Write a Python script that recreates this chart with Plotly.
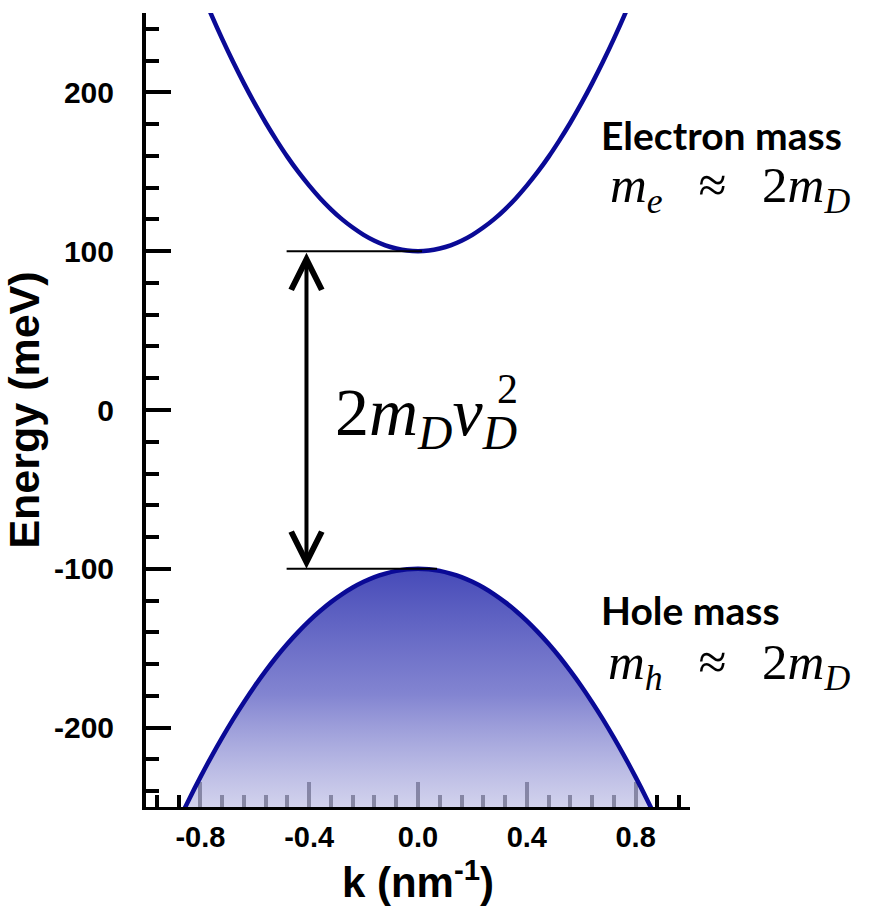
import plotly.graph_objects as go

# ---- data ----
k_electron = [-0.80, -0.76, -0.72, -0.68, -0.64, -0.60, -0.56, -0.52, -0.48, -0.44, -0.40,
              -0.36, -0.32, -0.28, -0.24, -0.20, -0.16, -0.12, -0.08, -0.04, 0.00,
              0.04, 0.08, 0.12, 0.16, 0.20, 0.24, 0.28, 0.32, 0.36, 0.40,
              0.44, 0.48, 0.52, 0.56, 0.60, 0.64, 0.68, 0.72, 0.76, 0.80]
E_electron = [265.1, 249.0, 233.7, 219.3, 205.7, 192.9, 180.9, 169.8, 159.4, 149.9, 141.3,
              133.4, 126.4, 120.2, 114.9, 110.3, 106.6, 103.7, 101.7, 100.4, 100.0,
              100.4, 101.7, 103.7, 106.6, 110.3, 114.9, 120.2, 126.4, 133.4, 141.3,
              149.9, 159.4, 169.8, 180.9, 192.9, 205.7, 219.3, 233.7, 249.0, 265.1]

k_hole = [-0.88, -0.84, -0.80, -0.76, -0.72, -0.68, -0.64, -0.60, -0.56, -0.52, -0.48, -0.44,
          -0.40, -0.36, -0.32, -0.28, -0.24, -0.20, -0.16, -0.12, -0.08, -0.04, 0.00,
          0.04, 0.08, 0.12, 0.16, 0.20, 0.24, 0.28, 0.32, 0.36, 0.40,
          0.44, 0.48, 0.52, 0.56, 0.60, 0.64, 0.68, 0.72, 0.76, 0.80, 0.84, 0.88]
E_hole = [-258.8, -244.6, -231.2, -218.4, -206.3, -194.8, -184.0, -173.8, -164.3, -155.4, -147.2, -139.7,
          -132.8, -126.6, -121.0, -116.1, -111.8, -108.2, -105.2, -103.0, -101.3, -100.3, -100.0,
          -100.3, -101.3, -103.0, -105.2, -108.2, -111.8, -116.1, -121.0, -126.6, -132.8,
          -139.7, -147.2, -155.4, -164.3, -173.8, -184.0, -194.8, -206.3, -218.4, -231.2, -244.6, -258.8]

gap_levels = [100, -100]
gap_line_k_start = [-0.483, -0.483]
gap_line_k_end = [0.015, 0.07]
arrow_k = -0.41

x_tickvals = [-0.8, -0.4, 0.0, 0.4, 0.8]
x_ticktext = ["-0.8", "-0.4", "0.0", "0.4", "0.8"]
y_tickvals = [-200, -100, 0, 100, 200]
y_ticktext = ["-200", "-100", "0", "100", "200"]

LINE = "#0a0a96"
SANS = "Liberation Sans"
SERIF = "Liberation Serif"
SP = "\u2002\u2009"

fig = go.Figure()

fig.add_trace(go.Scatter(
    x=k_hole, y=E_hole, mode="lines", line=dict(color=LINE, width=4.5, shape="spline", smoothing=1),
    fill="toself",
    fillgradient=dict(type="vertical",
                      colorscale=[[0, "rgba(200,200,232,0.68)"],
                                  [0.5, "rgba(120,122,205,0.92)"],
                                  [1, "rgba(70,74,184,1)"]]),
    hoverinfo="skip", showlegend=False))

fig.add_trace(go.Scatter(
    x=k_electron, y=E_electron, mode="lines", line=dict(color=LINE, width=4.5, shape="spline", smoothing=1),
    hoverinfo="skip", showlegend=False))

# horizontal level lines
for lvl, k0, k1 in zip(gap_levels, gap_line_k_start, gap_line_k_end):
    fig.add_shape(type="line", x0=k0, x1=k1, y0=lvl, y1=lvl, xref="x", yref="y",
                  line=dict(color="black", width=2))

# double-headed arrow
fig.add_annotation(x=arrow_k, y=gap_levels[1], ax=arrow_k, ay=gap_levels[0],
                   xref="x", yref="y", axref="x", ayref="y", text="",
                   showarrow=True, arrowhead=5, startarrowhead=5, arrowside="end+start",
                   arrowsize=1.5, startarrowsize=1.5, arrowwidth=4, arrowcolor="black",
                   standoff=0, startstandoff=0)

# text labels
fig.add_annotation(x=0.664, y=173, xref="x", yref="y", xanchor="left", yanchor="middle",
                   text="Electron mass", showarrow=False,
                   font=dict(family="Lato", size=39, color="black", weight="bold"))
fig.add_annotation(x=0.70, y=139, xref="x", yref="y", xanchor="left", yanchor="middle",
                   text="<i>m</i><sub><i>e</i></sub>" + SP + "≈" + SP + "2<i>m</i><sub><i>D</i></sub>",
                   showarrow=False, font=dict(family=SERIF, size=51, color="black"))
fig.add_annotation(x=0.664, y=-126, xref="x", yref="y", xanchor="left", yanchor="middle",
                   text="Hole mass", showarrow=False,
                   font=dict(family="Lato", size=39, color="black", weight="bold"))
fig.add_annotation(x=0.69, y=-161, xref="x", yref="y", xanchor="left", yanchor="middle",
                   text="<i>m</i><sub><i>h</i></sub>" + SP + "≈" + SP + "2<i>m</i><sub><i>D</i></sub>",
                   showarrow=False, font=dict(family=SERIF, size=51, color="black"))
fig.add_annotation(x=-0.314, y=-4, xref="x", yref="y", xanchor="left", yanchor="middle",
                   text="2<i>m</i><sub><i>D</i></sub><i>v</i><sub><i>D</i></sub>", showarrow=False,
                   font=dict(family=SERIF, size=68, color="black"))
fig.add_annotation(x=0.33, y=13, xref="x", yref="y", xanchor="center", yanchor="middle",
                   text="2", showarrow=False,
                   font=dict(family=SERIF, size=42, color="black"))

fig.update_layout(
    width=883, height=911,
    margin=dict(l=146, r=193, t=13, b=104),
    paper_bgcolor="white", plot_bgcolor="white",
    showlegend=False,
)

fig.update_xaxes(
    range=[-1, 1], showgrid=False, zeroline=False,
    showline=True, linecolor="black", linewidth=3,
    tickmode="array", tickvals=x_tickvals, ticktext=x_ticktext,
    ticks="inside", ticklen=25, tickwidth=3.5, tickcolor="black",
    minor=dict(dtick=0.08, tick0=0, ticks="inside", ticklen=12, tickwidth=3.5, tickcolor="black"),
    tickfont=dict(family=SANS, size=29, color="black", weight="bold"),
    ticklabelstandoff=2,
    layer="below traces",
    title=dict(text="k (nm<sup>-1</sup>)", standoff=14,
               font=dict(family=SANS, size=42, color="black", weight="bold")),
)
fig.update_yaxes(
    range=[-250, 250], showgrid=False, zeroline=False,
    showline=True, linecolor="black", linewidth=4,
    tickmode="array", tickvals=y_tickvals, ticktext=y_ticktext,
    ticks="inside", ticklen=25, tickwidth=4, tickcolor="black",
    minor=dict(dtick=20, tick0=0, ticks="inside", ticklen=13, tickwidth=4, tickcolor="black"),
    tickfont=dict(family=SANS, size=30, color="black", weight="bold"),
    ticklabelstandoff=22,
    title=dict(text="Energy (meV)", standoff=9,
               font=dict(family=SANS, size=43, color="black", weight="bold")),
)

fig.write_html("out.html")
